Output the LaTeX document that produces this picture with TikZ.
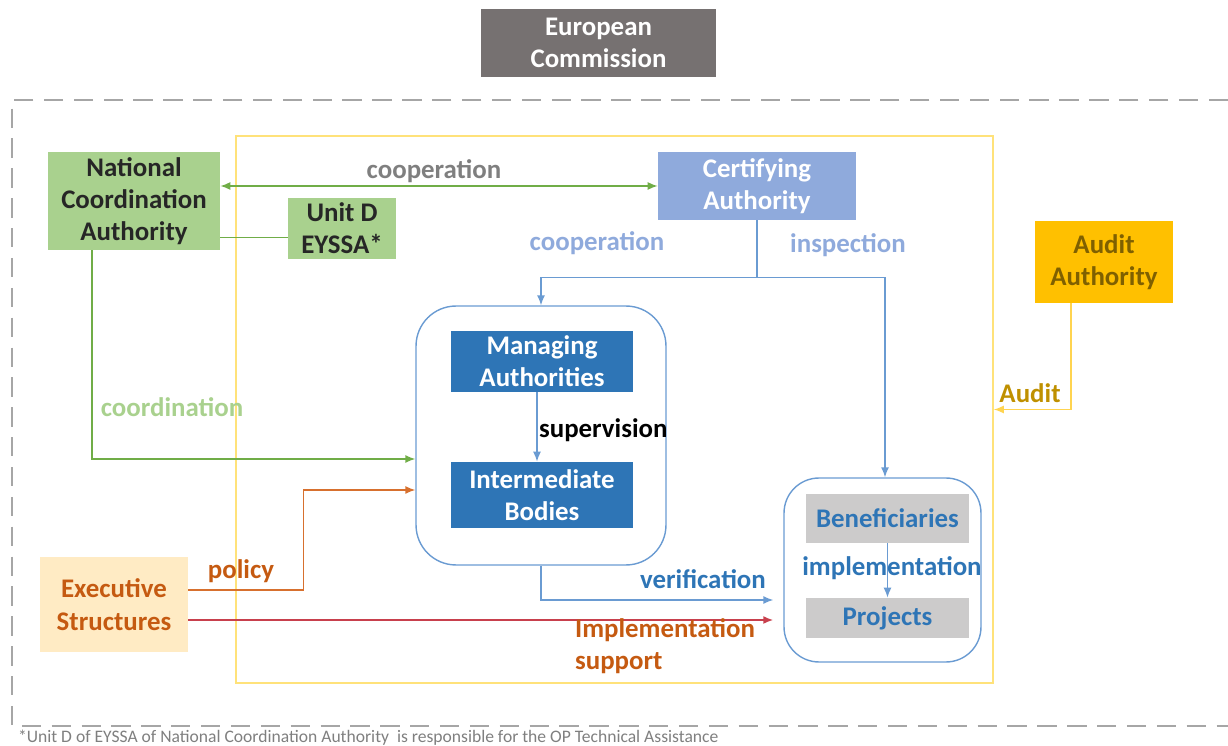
\documentclass[tikz,border=0pt]{standalone}
\usepackage{fontspec}
\setmainfont{Carlito}
\usetikzlibrary{arrows.meta}
\definecolor{ecgray}{HTML}{767171}
\definecolor{framegray}{HTML}{A6A6A6}
\definecolor{notegray}{HTML}{7F7F7F}
\definecolor{msyellow}{HTML}{FFE27A}
\definecolor{ncagreen}{HTML}{A9D18E}
\definecolor{argreen}{HTML}{70AD47}
\definecolor{cablue}{HTML}{8FAADC}
\definecolor{mablue}{HTML}{2E75B6}
\definecolor{grpblue}{HTML}{6A9BD2}
\definecolor{bengray}{HTML}{CCCBCB}
\definecolor{aaorange}{HTML}{FFC000}
\definecolor{aatext}{HTML}{7F6000}
\definecolor{audityellow}{HTML}{FFD450}
\definecolor{audittext}{HTML}{BF9000}
\definecolor{exfill}{HTML}{FFEBC4}
\definecolor{extext}{HTML}{C55A11}
\definecolor{polorange}{HTML}{D7702E}
\definecolor{supred}{HTML}{C8404D}
\begin{document}
\begin{tikzpicture}[
  x=0.02cm,y=-0.02cm,
  font=\bfseries\fontsize{15.3}{18.4}\selectfont,
  blk/.style={rectangle,align=center,inner sep=2pt},
  grp/.style={draw=grpblue,line width=0.8pt,rounded corners=0.8cm},
  lbl/.style={inner sep=1pt,align=left},
  ar/.style={-{Latex[length=2mm,width=1.6mm]},line width=0.8pt},
  dashline/.style={draw=framegray,line width=1.2pt,dash pattern=on 11pt off 6pt}
]
\useasboundingbox (0,0) rectangle (1228,746);
% outer frame and note
\draw[dashline] (1228,100) -- (12,100) -- (12,726) -- (1228,726);
\node[lbl,anchor=west,text=notegray,font=\fontsize{10}{12}\selectfont] (note) at (16,738)
  {*Unit D of EYSSA of National Coordination Authority\ \ is responsible for the\ OP Technical Assistance};
\node[draw=msyellow,line width=1pt,minimum width=15.14cm,minimum height=10.94cm] (ms) at (614.5,409.5) {};

% boxes
\node[blk,fill=ecgray,text=white,minimum width=4.7cm,minimum height=1.36cm] (ec) at (598.5,43) {European\\Commission};
\node[blk,fill=ncagreen,text=black!85,minimum width=3.44cm,minimum height=1.96cm] (nca) at (134,201) {National\\Coordination\\Authority};
\node[blk,fill=ncagreen,text=black!85,minimum width=2.16cm,minimum height=1.22cm] (unitd) at (342,228.5) {Unit D\\EYSSA*};
\node[blk,fill=cablue,text=white,minimum width=3.96cm,minimum height=1.36cm] (ca) at (757,186) {Certifying\\Authority};
\node[blk,fill=aaorange,text=aatext,minimum width=2.76cm,minimum height=1.64cm] (aa) at (1104,262) {Audit\\Authority};
\node[grp,minimum width=5cm,minimum height=5.18cm] (mg) at (541,435.5) {};
\node[blk,fill=mablue,text=white,minimum width=3.64cm,minimum height=1.22cm] (ma) at (542,361.5) {Managing\\Authorities};
\node[blk,fill=mablue,text=white,minimum width=3.64cm,minimum height=1.32cm] (ib) at (542,495) {Intermediate\\Bodies};
\node[grp,rounded corners=0.7cm,minimum width=3.94cm,minimum height=3.68cm] (rg) at (882.5,570) {};
\node[blk,fill=bengray,text=mablue,minimum width=3.26cm,minimum height=0.98cm] (ben) at (887.5,518.5) {Beneficiaries};
\node[blk,fill=bengray,text=mablue,minimum width=3.26cm,minimum height=0.8cm] (proj) at (887.5,618) {Projects};
\node[blk,fill=exfill,text=extext,minimum width=2.96cm,minimum height=1.9cm] (ex) at (114,604.5) {Executive\\Structures};

% connectors
\draw[ar,draw=argreen,{Latex[length=2mm,width=1.6mm]}-{Latex[length=2mm,width=1.6mm]}] (nca.east |- ca.west) -- (ca.west);
\draw[line width=0.8pt,draw=argreen] ([yshift=-5pt]unitd.west) -- ([yshift=-5pt]unitd.west -| nca.east);
\draw[ar,draw=argreen] ([xshift=-0.84cm]nca.south) |- ([yshift=-0.47cm]mg.west);
\draw[ar,draw=grpblue] (ca.south) -- ++(0,57) -| (mg.north);
\draw[ar,draw=grpblue] (ca.south) -- ++(0,57) -| ([xshift=0.05cm]rg.north);
\draw[ar,draw=grpblue] ([xshift=-0.1cm]ma.south) -- ([xshift=-0.1cm]ib.north);
\draw[ar,draw=grpblue,shorten >=0.2cm] (mg.south) |- ([yshift=-0.6cm]rg.west);
\draw[ar,draw=polorange] ([yshift=0.29cm]ex.east) -- ++(115,0) |- ([yshift=-1.09cm]mg.west);
\draw[ar,draw=supred,line width=1pt,shorten >=0.2cm] ([yshift=-0.31cm]ex.east) -- ([yshift=-0.31cm]ex.east -| rg.west);
\draw[ar,draw=grpblue] (ben.south) -- (proj.north);
\draw[ar,draw=audityellow] ([xshift=-0.66cm]aa.south) |- (ms.east);

% labels
\node[lbl,text=notegray] (coop1) at (434,171) {cooperation};
\node[lbl,text=ncagreen] (coord) at (172,407) {coordination};
\node[lbl,text=cablue] (coop2) at (597,243) {cooperation};
\node[lbl,text=cablue] (insp) at (848,245) {inspection};
\node[lbl,anchor=west,text=black] (sup) at (537,430) {supervision};
\node[lbl,text=audittext] (audit) at (1030,393) {Audit};
\node[lbl,text=extext] (pol) at (241,571) {policy};
\node[lbl,text=mablue] (verif) at (703,579) {verification};
\node[lbl,text=mablue] (impl) at (892,568) {implementation};
\node[lbl,anchor=north west,text=extext] (isup) at (573,616) {Implementation\\support};
\end{tikzpicture}
\end{document}
